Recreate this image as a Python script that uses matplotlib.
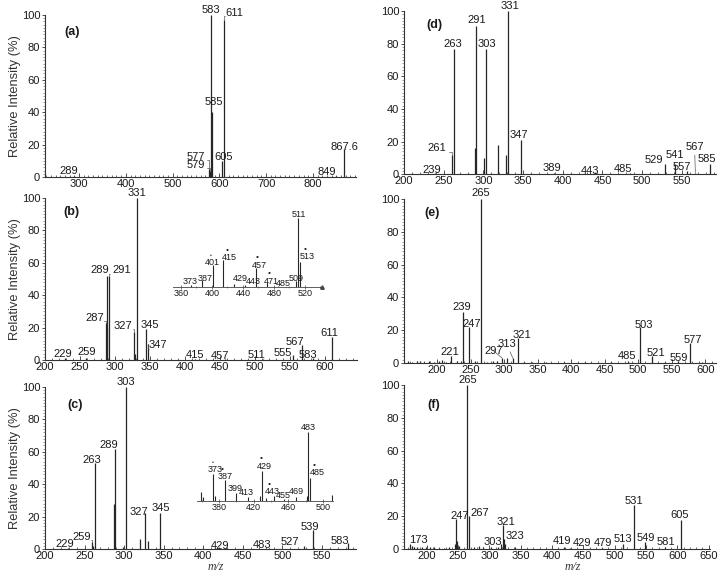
import matplotlib
matplotlib.use('Agg')
import matplotlib.pyplot as plt
from matplotlib.ticker import MultipleLocator, FixedLocator

plt.rcParams['font.family'] = ['Liberation Sans', 'DejaVu Sans']

# ---------------- data: m/z, relative intensity (%), labelled peaks ----------------
a_mz = [289, 577, 579, 583, 585, 605, 611, 849, 867.6]
a_int = [0.6, 5, 4, 100, 40, 10, 97, 0.6, 17]
a_lab = ['289', '577', '579', '583', '585', '605', '611', '849', '867.6']

d_mz = [239, 261, 263, 289, 291, 301, 303, 319, 329, 331, 347, 389, 443, 485, 529, 541, 557, 567, 585]
d_int = [1, 12, 77, 16, 91, 10, 77, 18, 12, 100, 21, 0.5, 0.5, 0.5, 6, 6.5, 2, 1, 6]
d_lab = ['239', '261', '263', '291', '303', '331', '347', '389', '443', '485', '529', '541', '557', '567', '585']

b_mz = [229, 259, 287, 288, 289, 291, 327, 329, 331, 345, 347, 415, 457, 511, 555, 567, 583, 611]
b_int = [1, 1.5, 23, 20, 52, 52, 17.5, 4, 100, 19, 10, 0.5, 0.5, 0.5, 3, 9, 1.5, 14]
b_lab = ['229', '259', '287', '289', '291', '327', '331', '345', '347', '415', '457', '511', '555', '567', '583', '611']

e_mz = [157, 163, 170, 175, 181, 188, 196, 203, 207, 213, 221, 229, 236, 239, 247, 256, 265, 275, 283,
        290, 297, 305, 313, 321, 329, 341, 363, 390, 420, 460, 485, 503, 521, 540, 559, 577, 595]
e_int = [1, 0.8, 1.5, 1, 0.8, 1.2, 0.8, 1.5, 2, 0.8, 4, 1, 1.5, 31, 22, 1, 100, 0.8, 1.5,
         1.2, 3, 3, 3, 15, 0.8, 0.7, 0.5, 0.5, 0.5, 0.5, 1, 22, 4, 0.5, 1, 12, 0.5]
e_lab = ['221', '239', '247', '265', '297', '313', '321', '485', '503', '521', '559', '577']

c_mz = [229, 259, 261, 263, 287, 289, 299, 303, 320, 327, 330, 345, 429, 483, 527, 539, 583]
c_int = [0.5, 4.5, 2, 53, 28, 62, 1, 100, 6, 22, 5, 22.5, 0.5, 0.5, 2, 11.5, 3.7]
c_lab = ['229', '259', '263', '289', '303', '327', '345', '429', '483', '527', '539', '583']

f_mz = [173, 176, 180, 185, 192, 198, 205, 212, 220, 228, 236, 245, 247, 249, 251, 265, 267, 275, 283,
        290, 303, 313, 319, 321, 323, 325, 341, 419, 429, 479, 513, 531, 549, 581, 605]
f_int = [3, 2, 1.5, 1, 1.2, 1, 1, 1.2, 0.8, 0.8, 1.2, 3, 18, 5, 2, 100, 20, 1.5, 2,
         1.5, 1.5, 1, 3, 14.5, 6, 3, 1.5, 1.5, 0.5, 0.5, 3, 27, 4, 1, 17.5]
f_lab = ['173', '247', '265', '267', '303', '321', '323', '419', '429', '479', '513', '531', '549', '581', '605']

# insets (zoomed regions of b and c)
bi_mz = [373, 387, 401, 415, 429, 443, 457, 471, 485, 509, 511, 513]
bi_int = [3, 9, 30, 36, 4, 3, 25, 6, 2, 8, 92, 33]
bi_lab = ['373', '387', '401', '415', '429', '443', '457', '471', '485', '509', '511', '513']
bi_mark = ['415', '457', '471', '513']
bi_small = ['401']
bi_ticks = [360, 400, 440, 480, 520]

ci_mz = [359, 361, 373, 375, 387, 399, 413, 427, 429, 434, 443, 455, 469, 481, 483, 485, 510]
ci_int = [12, 5, 36, 6, 28, 10.5, 5, 6, 40, 4, 6.5, 2, 5, 6, 91, 30, 8]
ci_lab = ['373', '387', '399', '413', '429', '443', '455', '469', '483', '485']
ci_mark = ['387', '429', '443', '485']
ci_small = ['373']
ci_ticks = [380, 420, 460, 500]

# ---------------- layout: label positions (data coords) ----------------
a_pos = {'289': (277, 3.5), '577': (549, 12.5), '579': (549, 7.5), '583': (581, 103),
         '585': (589, 46.5), '605': (610, 12.5), '611': (631, 101.4), '849': (829, 3),
         '867.6': (868, 18.7)}
a_lead = {'577': 'angle', '579': 'angle', '611': 'angle'}

d_pos = {'239': (235, 2.5), '261': (241, 16), '263': (262, 80), '291': (291, 94.5),
         '303': (305, 80), '331': (333, 103), '347': (345, 24), '389': (386, 3.5),
         '443': (434, 2), '485': (476, 3), '529': (515, 8.4), '541': (541, 11.7),
         '557': (550, 4.5), '567': (566, 16.5), '585': (581, 9.6)}
d_lead = {'261': 'angle', '567': 'line'}

b_pos = {'229': (226, 3.7), '259': (260, 5), '287': (271, 26), '289': (279, 55.5),
         '291': (310, 55.5), '327': (312, 21), '331': (331, 103), '345': (350, 21.5),
         '347': (362, 9), '415': (414, 3), '457': (450, 2.5), '511': (502, 3),
         '555': (540, 4.5), '567': (557, 11), '583': (576, 3), '611': (607, 16.5)}
b_lead = {'287': 'angle', '291': 'angle', '327': 'angle', '347': 'angle'}

e_pos = {'221': (219, 6.7), '239': (237, 34.3), '247': (252, 24), '265': (265, 103.5),
         '297': (284, 7.5), '313': (304, 11.5), '321': (326, 17), '485': (483, 4.5),
         '503': (509, 23), '521': (527, 6), '559': (560, 3), '577': (582, 14)}
e_lead = {'297': 'line', '313': 'line'}

c_pos = {'229': (225, 3), '259': (246, 7.6), '263': (259, 55), '289': (280, 64),
         '303': (302, 103), '327': (319, 23), '345': (347, 25), '429': (421, 2),
         '483': (474, 2.5), '527': (510, 4.2), '539': (535, 13.8), '583': (573, 5)}
c_lead = {'259': 'angle'}

f_pos = {'173': (186, 5.5), '247': (253, 20), '265': (265, 103), '267': (284, 22),
         '303': (305, 4), '321': (327, 16.7), '323': (341, 8), '419': (416, 5),
         '429': (448, 3.6), '479': (481, 3.6), '513': (513, 6), '531': (531, 29.5),
         '549': (550, 7), '581': (581, 4), '605': (604, 20.7)}

bi_pos = {'373': (372, 8), '387': (392, 10.7), '401': (401, 33.3), '415': (423, 39),
          '429': (437, 12), '443': (453, 6.7), '457': (461, 29.3), '471': (477, 8),
          '485': (492, 5.3), '509': (509, 12), '511': (511.5, 97), '513': (523, 40.4)}
ci_pos = {'373': (375, 42), '387': (387, 31.6), '399': (398, 17), '413': (412, 10.5),
          '429': (432, 46), '443': (441, 12), '455': (454, 6.6), '469': (469, 13),
          '483': (483, 97), '485': (493, 37)}

PEAK = '#262626'
TXT = '#1a1a1a'
FS = 8
FS_IN = 6.5


def spectrum(ax, mz, inten, labels, pos, lead, xlim, major, tag, tagpos):
    ax.vlines(mz, 0, inten, colors=PEAK, lw=0.9)
    ax.set_xlim(*xlim)
    ax.set_ylim(0, 100)
    ax.xaxis.set_major_locator(MultipleLocator(major))
    ax.xaxis.set_minor_locator(MultipleLocator(10))
    ax.yaxis.set_major_locator(MultipleLocator(20))
    ax.yaxis.set_minor_locator(MultipleLocator(2))
    for s in ['top', 'right']:
        ax.spines[s].set_visible(False)
    for s in ['left', 'bottom']:
        ax.spines[s].set_linewidth(0.8)
        ax.spines[s].set_color('#333333')
    ax.tick_params(axis='x', which='major', direction='in', length=3, width=0.6,
                   labelsize=FS, pad=1.5, colors='#333333', labelcolor=TXT)
    ax.tick_params(axis='x', which='minor', direction='in', length=1.5, width=0.5, colors='#333333')
    ax.tick_params(axis='y', which='major', direction='out', length=2.5, width=0.6,
                   labelsize=FS, pad=1, colors='#333333', labelcolor=TXT)
    ax.tick_params(axis='y', which='minor', direction='out', length=1.3, width=0.4, colors='#555555')
    for lab in labels:
        tx, ty = pos[lab]
        style = lead.get(lab)
        if style is None:
            ax.text(tx, ty, lab, ha='center', va='center', fontsize=FS, color=TXT, clip_on=False)
        else:
            peak = float(lab)
            h = inten[mz.index(peak)]
            if style == 'angle':
                rel = (1, 0.15) if tx < peak else (0, 0.15)
                cs = 'angle,angleA=0,angleB=90,rad=0'
            else:
                rel = (0.5, 0.5)
                cs = 'arc3'
            ax.annotate(lab, xy=(peak, h), xytext=(tx, ty), ha='center', va='center',
                        fontsize=FS, color=TXT, annotation_clip=False,
                        arrowprops=dict(arrowstyle='-', lw=0.5, color='#555555', shrinkA=0,
                                        shrinkB=0, relpos=rel, connectionstyle=cs))
    ax.text(tagpos[0], tagpos[1], tag, transform=ax.transAxes, ha='center', va='center',
            fontsize=9, fontweight='bold', color=TXT)


def inset(rect, mz, inten, labels, pos, marks, small, xlim, ticks, arrow):
    ax = fig.add_axes(rect)
    ax.patch.set_alpha(0)
    ax.vlines(mz, 0, inten, colors=PEAK, lw=0.8)
    ax.set_xlim(*xlim)
    ax.set_ylim(0, 100)
    for s in ['top', 'right', 'left']:
        ax.spines[s].set_visible(False)
    ax.spines['bottom'].set_linewidth(0.6)
    ax.spines['bottom'].set_color('#444444')
    ax.set_yticks([])
    ax.xaxis.set_major_locator(FixedLocator(ticks))
    ax.xaxis.set_minor_locator(FixedLocator([t + 20 for t in ticks] + [ticks[0] - 20]))
    ax.tick_params(axis='x', which='major', direction='inout', length=2.5, width=0.5,
                   labelsize=FS_IN, pad=0.5, colors='#444444', labelcolor=TXT)
    ax.tick_params(axis='x', which='minor', direction='inout', length=1.5, width=0.4, colors='#444444')
    for lab in labels:
        tx, ty = pos[lab]
        ax.text(tx, ty, lab, ha='center', va='center', fontsize=FS_IN, color=TXT, clip_on=False)
        if lab in marks:
            ax.text(tx - 3, ty + 10, '•', ha='center', va='center', fontsize=6, color=TXT)
        if lab in small:
            ax.text(tx - 2, ty + 9, '•', ha='center', va='center', fontsize=3.5, color=TXT)
    if arrow:
        ax.plot([xlim[1]], [0], marker='^', ms=2.5, color='#444444', clip_on=False)
    return ax


fig = plt.figure(figsize=(7.23, 5.73), dpi=100)

ax_a = fig.add_axes([0.0622, 0.691, 0.430, 0.283])
ax_d = fig.add_axes([0.5588, 0.696, 0.4315, 0.2845])
ax_b = fig.add_axes([0.0622, 0.3717, 0.4315, 0.2827])
ax_e = fig.add_axes([0.5588, 0.3665, 0.4315, 0.2862])
ax_c = fig.add_axes([0.0622, 0.0419, 0.430, 0.2827])
ax_f = fig.add_axes([0.5588, 0.0419, 0.4232, 0.2862])

spectrum(ax_a, a_mz, a_int, a_lab, a_pos, a_lead, (227, 892), 100, '(a)', (0.086, 0.893))
spectrum(ax_d, d_mz, d_int, d_lab, d_pos, d_lead, (200, 593), 50, '(d)', (0.099, 0.914))
spectrum(ax_b, b_mz, b_int, b_lab, b_pos, b_lead, (200, 646), 50, '(b)', (0.086, 0.915))
spectrum(ax_e, e_mz, e_int, e_lab, e_pos, e_lead, (150.7, 616), 50, '(e)', (0.089, 0.913))
spectrum(ax_c, c_mz, c_int, c_lab, c_pos, c_lead, (200, 593), 50, '(c)', (0.096, 0.889))
spectrum(ax_f, f_mz, f_int, f_lab, f_pos, {}, (163.7, 652), 50, '(f)', (0.096, 0.878))

for ax in (ax_a, ax_b, ax_c):
    ax.set_ylabel('Relative Intensity (%)', fontsize=9.3, color='#333333')
    ax.yaxis.set_label_coords(-0.078, 0.5)
for ax in (ax_c, ax_f):
    ax.set_xlabel('m/z', fontsize=8.5, fontstyle='italic', family='Liberation Serif', color='#333333')
    ax.xaxis.set_label_coords(0.55, -0.072)

inset([0.2393, 0.4991, 0.2061, 0.1309], bi_mz, bi_int, bi_lab, bi_pos, bi_mark, bi_small,
      (350, 542), bi_ticks, True)
inset([0.2725, 0.1257, 0.1881, 0.1326], ci_mz, ci_int, ci_lab, ci_pos, ci_mark, ci_small,
      (354.5, 511.6), ci_ticks, False)

fig.savefig('out.png', dpi=100)
